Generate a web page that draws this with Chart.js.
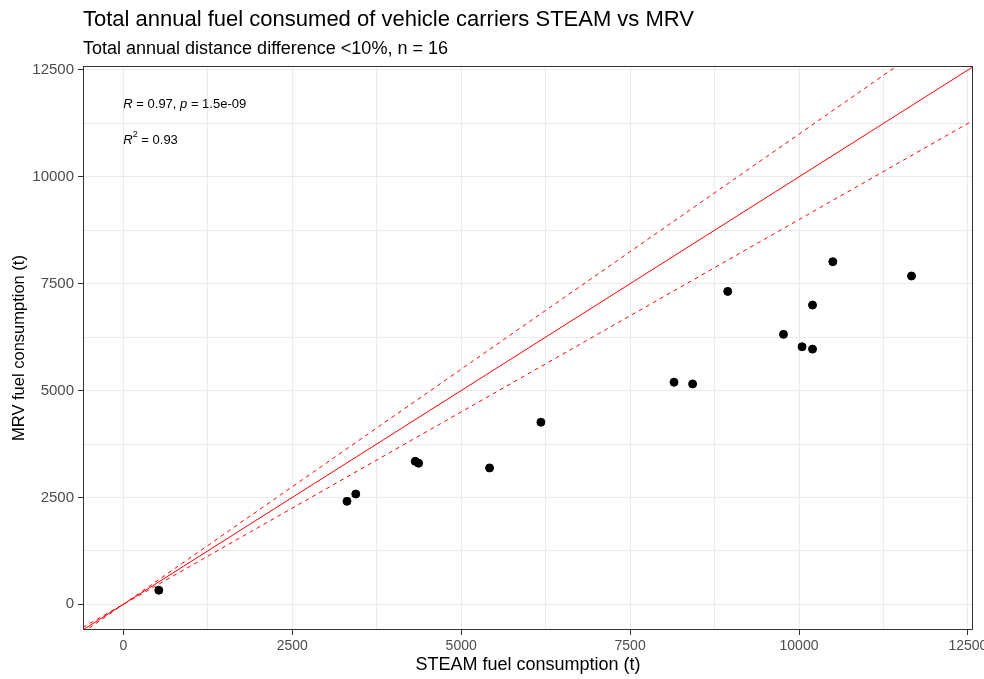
<!DOCTYPE html>
<html>
<head>
<meta charset="utf-8">
<script src="https://cdn.jsdelivr.net/npm/chart.js@4.4.1/dist/chart.umd.min.js"></script>
<style>
  html, body { margin: 0; padding: 0; background: #fff; }
  #wrap { width: 984px; height: 679px; position: relative; }
</style>
</head>
<body>
<div id="wrap"><canvas id="chart"></canvas></div>
<script>
// STEAM vs MRV annual fuel (t), one point per vehicle carrier
const steamFuel = [525, 3310, 3440, 4320, 4370, 5420, 6180, 8150, 8425, 8945, 9770, 10045, 10200, 10200, 10500, 11665];
const mrvFuel   = [330, 2410, 2580, 3345, 3300, 3190, 4260, 5195, 5155, 7320, 6315, 6025, 5970, 7000, 8015, 7680];

// reference lines: 1:1 and +/-10 %
const refX     = [-600, 13000];
const parityY  = [-600, 13000];
const upper10Y = [-660, 14300];
const lower10Y = [-540, 11700];

const axisTicks = [0, 2500, 5000, 7500, 10000, 12500];

const titleText = 'Total annual fuel consumed of vehicle carriers STEAM vs MRV';
const subtitleText = 'Total annual distance difference <10%, n = 16';
const xTitle = 'STEAM fuel consumption (t)';
const yTitle = 'MRV fuel consumption (t)';
const statR = { r: '0.97', p: '1.5e-09', r2: '0.93' };

const FONT = '"Liberation Sans", Arial, sans-serif';

const toXY = (xs, ys) => xs.map((x, i) => ({ x, y: ys[i] }));

// major ticks plus minor gridlines halfway between them
const gridValues = [];
axisTicks.forEach((v, i) => {
    gridValues.push(v);
    if (i < axisTicks.length - 1) gridValues.push((v + axisTicks[i + 1]) / 2);
});

const refLine = (ys, dash) => ({
    type: 'line',
    data: toXY(refX, ys),
    borderColor: '#ff0000',
    borderWidth: 1,
    borderDash: dash,
    pointRadius: 0,
    fill: false,
    order: 2
});

// ggplot-ish panel border, titles, stat labels
const decorPlugin = {
    id: 'decor',
    afterDraw(chart) {
        const { ctx, chartArea: a, scales } = chart;
        ctx.save();
        ctx.strokeStyle = '#333333';
        ctx.lineWidth = 1;
        ctx.strokeRect(Math.round(a.left) + 0.5, Math.round(a.top) + 0.5,
            Math.round(a.right - a.left) - 1, Math.round(a.bottom - a.top) - 1);

        ctx.fillStyle = '#000';
        ctx.textAlign = 'left';
        ctx.textBaseline = 'alphabetic';
        ctx.font = '22px ' + FONT;
        ctx.fillText(titleText, a.left, 26);
        ctx.font = '18px ' + FONT;
        ctx.fillText(subtitleText, a.left, 54);

        ctx.textAlign = 'center';
        ctx.textBaseline = 'middle';
        ctx.font = '18px ' + FONT;
        ctx.fillText(xTitle, (a.left + a.right) / 2, 665);
        ctx.font = '16.5px ' + FONT;
        ctx.save();
        ctx.translate(19, (a.top + a.bottom) / 2);
        ctx.rotate(-Math.PI / 2);
        ctx.fillText(yTitle, 0, 0);
        ctx.restore();

        // stat_cor labels
        const x0 = scales.x.getPixelForValue(0);
        const y1 = scales.y.getPixelForValue(11730) + 2;
        const y2 = scales.y.getPixelForValue(10910) + 2;
        ctx.textAlign = 'left';
        ctx.textBaseline = 'middle';
        const runs = (parts, y) => {
            let x = x0;
            parts.forEach(([txt, style, dy]) => {
                ctx.font = style;
                ctx.fillText(txt, x, y + (dy || 0));
                x += ctx.measureText(txt).width;
            });
        };
        const it = 'italic 13px ' + FONT, rg = '13px ' + FONT, sm = '9px ' + FONT;
        runs([['R', it], [' = ' + statR.r + ', ', rg], ['p', it], [' = ' + statR.p, rg]], y1);
        runs([['R', it], ['2', sm, -5], [' = ' + statR.r2, rg]], y2);
        ctx.restore();
    }
};

const isMajor = v => axisTicks.includes(v);

const axisCfg = (min, max, isX) => ({
    type: 'linear',
    min, max,
    border: { display: false },
    afterBuildTicks: s => { s.ticks = gridValues.map(value => ({ value })); },
    grid: {
        color: '#ebebeb',
        lineWidth: 1,
        drawTicks: true,
        tickLength: 5,
        tickColor: c => isMajor(c.tick.value) ? '#333333' : 'rgba(0,0,0,0)'
    },
    ticks: {
        autoSkip: false,
        maxRotation: 0,
        padding: isX ? 3 : 4,
        color: '#4d4d4d',
        font: { family: FONT, size: isX ? 14 : 15 },
        callback: v => isMajor(v) ? String(v) : ''
    },
    afterFit: s => {
        if (isX) s.height = 49; else s.width = 83;
        s.paddingLeft = s.paddingRight = s.paddingTop = s.paddingBottom = 0;
    }
});

new Chart(document.getElementById('chart'), {
    data: {
        datasets: [
            {
                type: 'scatter',
                data: toXY(steamFuel, mrvFuel),
                backgroundColor: '#000',
                borderColor: '#000',
                pointRadius: 4,
                pointHoverRadius: 4,
                order: 1
            },
            refLine(parityY, []),
            refLine(upper10Y, [4, 4]),
            refLine(lower10Y, [4, 4])
        ]
    },
    options: {
        responsive: true,
        maintainAspectRatio: false,
        animation: false,
        events: [],
        layout: { padding: { left: 0, right: 11, top: 66, bottom: 0 } },
        plugins: { legend: { display: false }, tooltip: { enabled: false } },
        scales: {
            x: axisCfg(-597, 12575, true),
            y: axisCfg(-601, 12593, false)
        }
    },
    plugins: [decorPlugin]
});
</script>
</body>
</html>
